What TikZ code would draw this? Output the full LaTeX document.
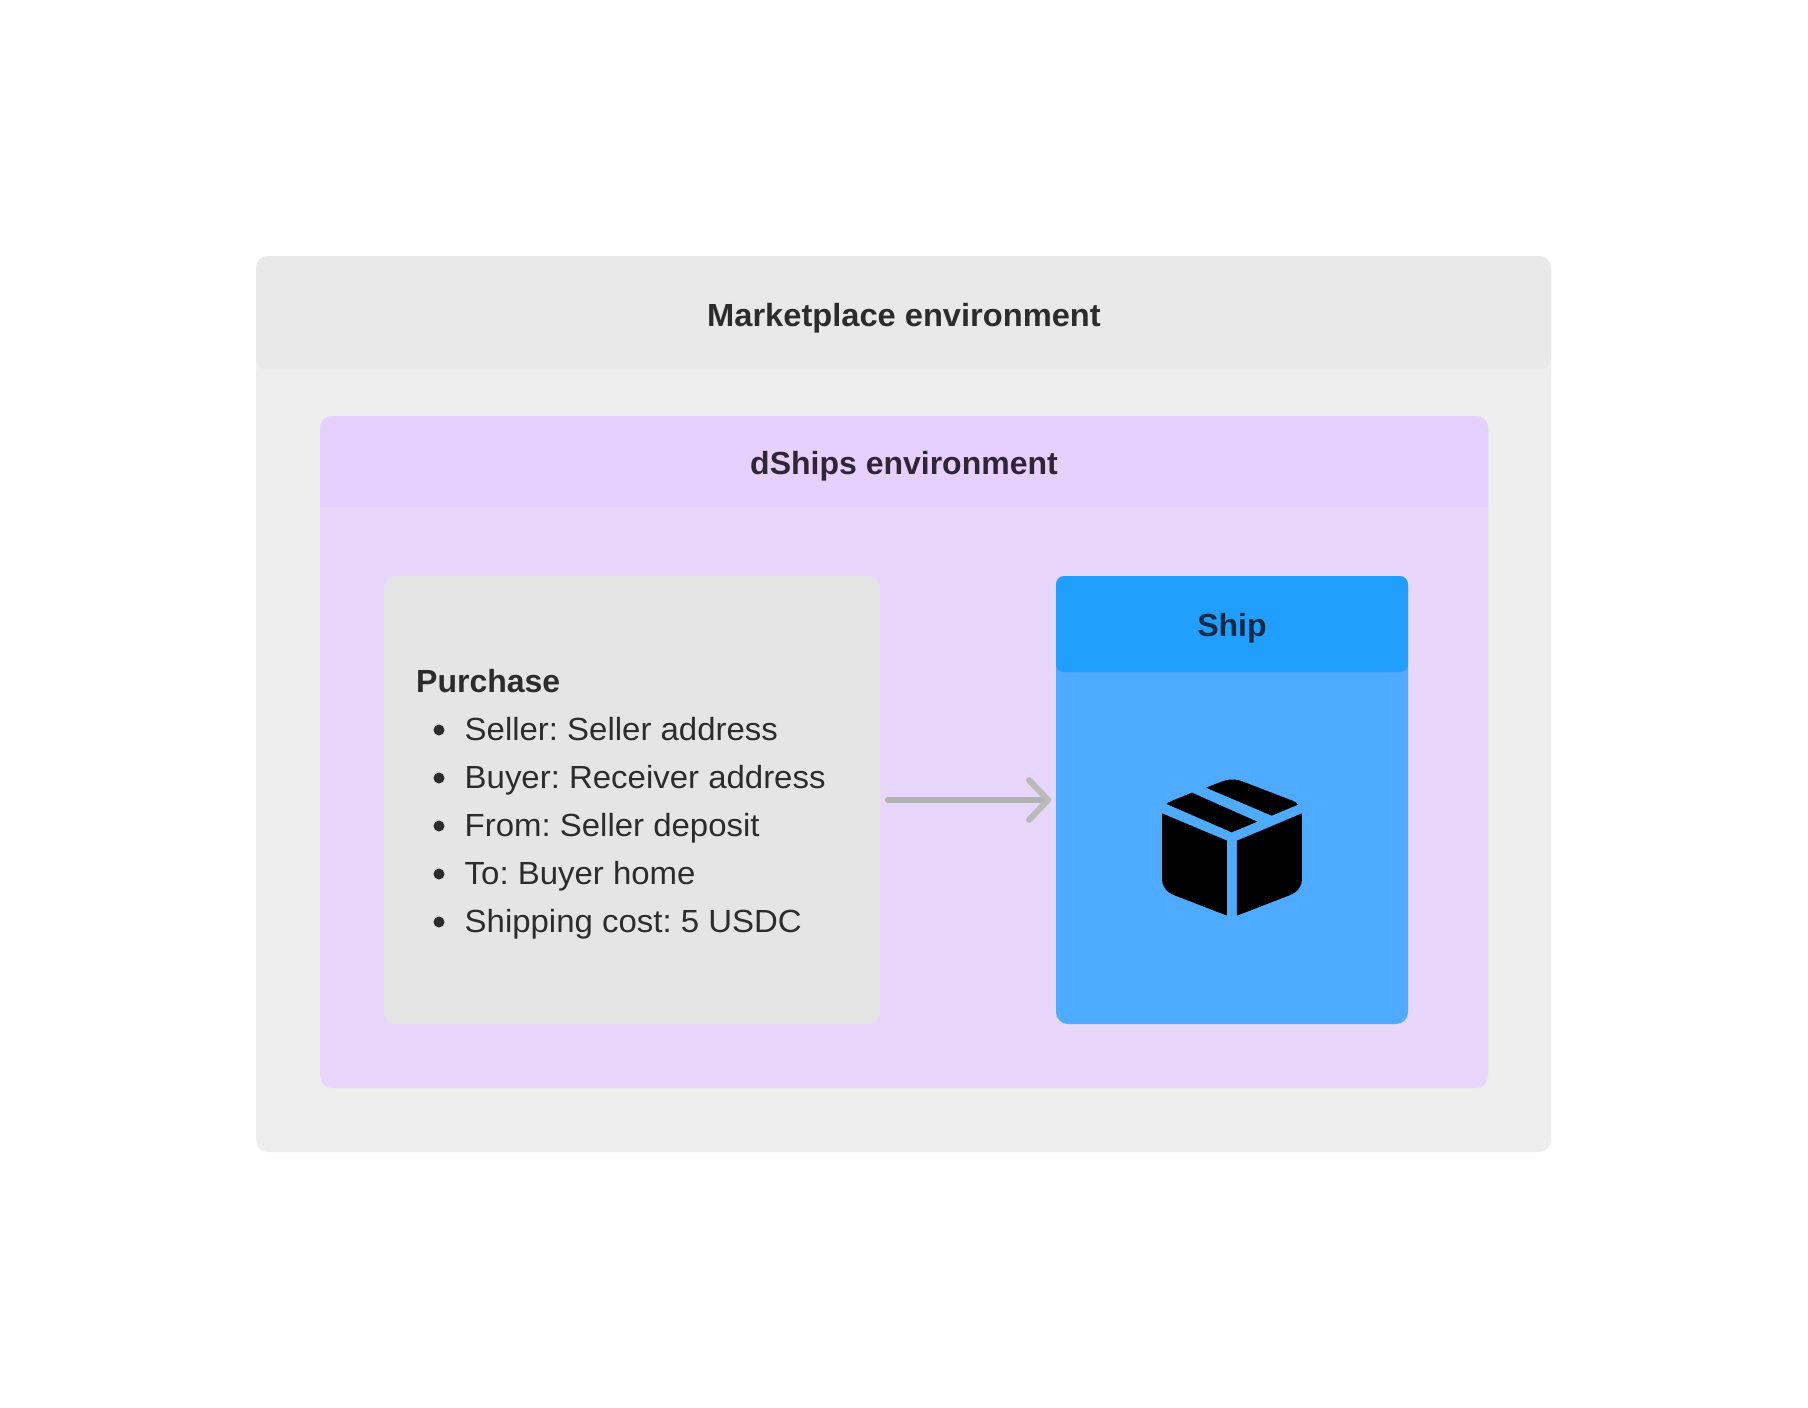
\documentclass[tikz,border=0pt]{standalone}
\usepackage{fontspec}
\usetikzlibrary{arrows.meta}
\setmainfont{Liberation Sans}
\newfontfamily\bodyfont[FakeStretch=1.03]{Liberation Sans}
\newfontfamily\headfont{Liberation Sans}
\newfontfamily\wideheadfont[FakeStretch=1.02]{Liberation Sans}
\definecolor{outerbody}{HTML}{EEEEEE}
\definecolor{outerhead}{HTML}{E9E9E9}
\definecolor{purplebody}{HTML}{E8D6FB}
\definecolor{purplehead}{HTML}{E6D0FD}
\definecolor{greybox}{HTML}{E5E5E5}
\definecolor{bluebody}{HTML}{4FABFF}
\definecolor{bluehead}{HTML}{209FFF}
\definecolor{inkdark}{HTML}{2C2C2C}
\definecolor{inkpurple}{HTML}{2F2635}
\definecolor{inkblue}{HTML}{0E2A45}
\definecolor{arrowgrey}{HTML}{B2B2B2}
\definecolor{tipgrey}{HTML}{BABABA}
\tikzset{
  panel/.style={rectangle,anchor=north west,inner sep=0pt,outer sep=0pt,draw=none,rounded corners=#1},
  panel/.default=12pt,
  title/.style={anchor=base,inner sep=0pt,font=\headfont\bfseries\fontsize{32}{48}\selectfont},
  line/.style={anchor=base west,inner sep=0pt,text=inkdark,font=\frenchspacing\bodyfont\fontsize{32}{48}\selectfont},
  dot/.style={circle,fill=inkdark,minimum size=11pt,inner sep=0pt,draw=none},
  flow/.style={draw=arrowgrey,line width=6pt,line cap=round,line join=round,
    -{Straight Barb[length=19pt,width=40pt,round,color=tipgrey,line width=6pt]}}
}
\begin{document}
\begin{tikzpicture}[x=1pt,y=-1pt]
\useasboundingbox (0,0) rectangle (1808,1408);
\fill[white] (0,0) rectangle (1808,1408);
% outer environment
\node[panel,fill=outerbody,minimum width=1295pt,minimum height=896pt] (outer) at (256,256) {};
\node[panel,fill=outerhead,minimum width=1295pt,minimum height=114pt] (outerhd) at (256,256) {};
\node[title,text=inkdark,font=\wideheadfont\bfseries\fontsize{32}{48}\selectfont] (marketlabel) at (904,326) {Marketplace environment};
% dShips environment
\node[panel,fill=purplebody,minimum width=1168pt,minimum height=672pt] (dships) at (320,416) {};
\fill[purplehead,rounded corners=12pt] (320,507) [sharp corners] -- (320,440) [rounded corners=12pt] -- (320,416) -- (1488,416) -- (1488,440) [sharp corners] -- (1488,507) -- cycle;
\node[title,text=inkpurple] (dshipslabel) at (904,474) {dShips environment};
% purchase
\node[panel,fill=greybox,minimum width=496pt,minimum height=448pt] (purchase) at (384,576) {};
\node[line,font=\headfont\bfseries\fontsize{32}{48}\selectfont] (purchasetitle) at (416,692) {Purchase};
\node[line] (l1) at (464.5,740) {Seller: Seller address};
\node[line] (l2) at (464.5,788) {Buyer: Receiver address};
\node[line] (l3) at (464.5,836) {From: Seller deposit};
\node[line] (l4) at (464.5,884) {To: Buyer home};
\node[line] (l5) at (464.5,932) {Shipping cost: 5 USDC};
\node[dot] (d1) at (439,730) {};
\node[dot] (d2) at (439,778) {};
\node[dot] (d3) at (439,826) {};
\node[dot] (d4) at (439,874) {};
\node[dot] (d5) at (439,922) {};
% ship
\node[panel,fill=bluebody,minimum width=352pt,minimum height=448pt] (ship) at (1056,576) {};
\node[panel=8pt,fill=bluehead,minimum width=352pt,minimum height=96pt] (shiphd) at (1056,576) {};
\node[title,text=inkblue] (shiplabel) at (1232,636) {Ship};
% connector
\draw[flow,shorten <=8pt,shorten >=5pt] (purchase.east) -- (ship.west);
% box icon
\begin{scope}[shift={(1100,720)},x=0.3333pt,y=-0.3333pt]
\fill[black] (186,280) -- (381,362) -- (381,587) -- (226,527) .. controls (200,517) and (186,500) .. (186,478) -- cycle;
\fill[black] (606,280) -- (411,362) -- (411,587) -- (566,527) .. controls (592,517) and (606,500) .. (606,478) -- cycle;
\fill[black] (200,252) .. controls (204,247) and (208,246) .. (214,243) -- (276,218) -- (472,305) -- (395,337) -- cycle;
\fill[black] (318,203) -- (362,186) .. controls (385,176) and (410,176) .. (432,186) -- (575,241) .. controls (585,245) and (590,249) .. (594,254) -- (515,287) -- cycle;
\end{scope}
\end{tikzpicture}
\end{document}
